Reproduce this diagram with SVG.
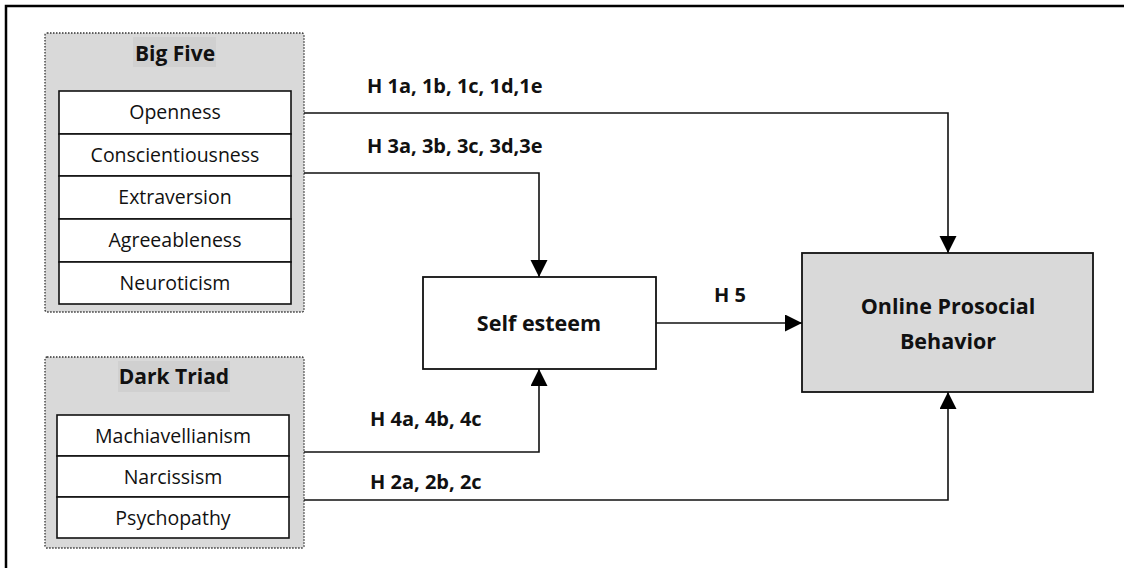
<svg xmlns="http://www.w3.org/2000/svg" width="1124" height="568" viewBox="0 0 1124 568">
<style>
.grp{fill:#d9d9d9;stroke:#333;stroke-width:1.3;stroke-dasharray:1.5 1.5}
.lbl{fill:#d0d0d0}
.item{fill:#fff;stroke:#111;stroke-width:1.6}
.box{stroke:#111;stroke-width:1.8}
.t{font-family:"Open Sans","Liberation Sans",sans-serif;font-size:19.5px;fill:#111;text-anchor:middle}
.b{font-family:"Open Sans","Liberation Sans",sans-serif;font-size:20px;font-weight:bold;fill:#111}
.g{font-size:21px}
.n{font-size:21.5px}
.c{text-anchor:middle}
.ln{fill:none;stroke:#111;stroke-width:1.6}
</style>
<defs>
<marker id="ah" markerUnits="userSpaceOnUse" markerWidth="18" markerHeight="18" refX="17" refY="8.5" orient="auto">
<path d="M0,0 L17,8.5 L0,17 Z" fill="#000"/>
</marker>
</defs>
<path d="M6,568 V6 H1124" fill="none" stroke="#000" stroke-width="2.5"/>
<g id="bigfive">
<rect class="grp" x="45" y="33" width="259" height="279" rx="2"/>
<rect class="lbl" x="133" y="37" width="83" height="30"/>
<text class="b g c" x="175" y="61">Big Five</text>
<rect class="item" x="59" y="91" width="232" height="43"/>
<rect class="item" x="59" y="134" width="232" height="42"/>
<rect class="item" x="59" y="176" width="232" height="43"/>
<rect class="item" x="59" y="219" width="232" height="43"/>
<rect class="item" x="59" y="262" width="232" height="42"/>
<text class="t" x="175" y="119">Openness</text>
<text class="t" x="175" y="162">Conscientiousness</text>
<text class="t" x="175" y="204">Extraversion</text>
<text class="t" x="175" y="247">Agreeableness</text>
<text class="t" x="175" y="290">Neuroticism</text>
</g>
<g id="darktriad">
<rect class="grp" x="45" y="357" width="259" height="191" rx="2"/>
<rect class="lbl" x="118" y="361" width="112" height="31"/>
<text class="b g c" x="174" y="384">Dark Triad</text>
<rect class="item" x="57" y="415" width="232" height="41"/>
<rect class="item" x="57" y="456" width="232" height="41"/>
<rect class="item" x="57" y="497" width="232" height="41"/>
<text class="t" x="173" y="443">Machiavellianism</text>
<text class="t" x="173" y="484">Narcissism</text>
<text class="t" x="173" y="525">Psychopathy</text>
</g>
<g id="selfesteem">
<rect class="box" x="423" y="277" width="233" height="92" fill="#fff"/>
<text class="b n c" x="539" y="331">Self esteem</text>
</g>
<g id="online">
<rect class="box" x="802" y="253" width="291" height="139" fill="#d9d9d9"/>
<text class="b n c" x="948" y="314">Online Prosocial</text>
<text class="b n c" x="948" y="349">Behavior</text>
</g>
<g id="connectors">
<path class="ln" d="M304,113 H948 V253" marker-end="url(#ah)"/>
<path class="ln" d="M304,173 H539 V277" marker-end="url(#ah)"/>
<path class="ln" d="M656,323 H802" marker-end="url(#ah)"/>
<path class="ln" d="M304,452 H539 V369" marker-end="url(#ah)"/>
<path class="ln" d="M304,500 H948 V392" marker-end="url(#ah)"/>
<text class="b" x="367" y="93">H 1a, 1b, 1c, 1d,1e</text>
<text class="b" x="367" y="153">H 3a, 3b, 3c, 3d,3e</text>
<text class="b" x="714" y="302">H 5</text>
<text class="b" x="370" y="426">H 4a, 4b, 4c</text>
<text class="b" x="370" y="489">H 2a, 2b, 2c</text>
</g>
</svg>
